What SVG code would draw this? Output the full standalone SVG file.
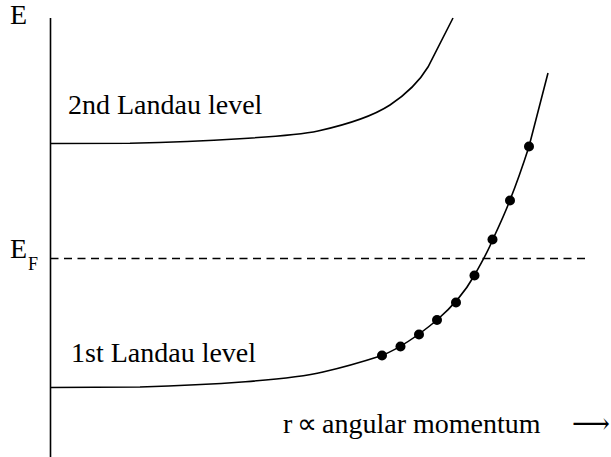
<svg xmlns="http://www.w3.org/2000/svg" width="611" height="457" viewBox="0 0 611 457">
<style>
.t{font-family:"Liberation Serif","Times New Roman",serif;font-size:28px;fill:#000}
.c{fill:none;stroke:#000;stroke-width:1.6}
.d{fill:#000}
</style>
<rect width="611" height="457" fill="#fff"/>
<g id="axes">
<line class="c" x1="50.5" y1="18" x2="50.5" y2="457"/>
<line x1="50.5" y1="258.5" x2="586" y2="258.5" stroke="#000" stroke-width="1.6" stroke-dasharray="8 5.5"/>
</g>
<g id="level2">
<path class="c" d="M50,143.5 L130,143.3 C200,141.5 290,137 318,131 C345,125 370,118 390,105 C405,95 419,82 428,67 L453,18"/>
<text class="t" x="68" y="114">2nd Landau level</text>
</g>
<g id="level1">
<path class="c" d="M50,387.5 L140,387 C210,385 290,380 323,372 C345,367 365,361 382,355.5 C400,348 419,335 437,320 C452,307 465,292 474,276 C482,262 489,249 493,239 C500,224 507,208 510,200 C518,180 524,162 529,146.5 L548,73"/>
<text class="t" x="71" y="362">1st Landau level</text>
</g>
<g id="electrons">
<circle class="d" cx="382" cy="355.5" r="5"/>
<circle class="d" cx="400.5" cy="346.5" r="5"/>
<circle class="d" cx="419" cy="334.5" r="5"/>
<circle class="d" cx="437" cy="320" r="5"/>
<circle class="d" cx="456" cy="302.5" r="5"/>
<circle class="d" cx="474.5" cy="275.5" r="5"/>
<circle class="d" cx="492.5" cy="239.5" r="5"/>
<circle class="d" cx="510" cy="200.5" r="5"/>
<circle class="d" cx="529" cy="146.5" r="5"/>
</g>
<g id="labels">
<text class="t" x="10" y="24">E</text>
<text class="t" x="10" y="258">E</text>
<text class="t" x="28" y="270" style="font-size:18px">F</text>
<text class="t" y="433"><tspan x="283">r</tspan><tspan x="297">∝</tspan><tspan x="322">angular momentum</tspan></text>
<text class="t" x="572" y="433" style="font-family:'DejaVu Serif','DejaVu Sans',serif" textLength="38" lengthAdjust="spacingAndGlyphs">⟶</text>
</g>
</svg>
